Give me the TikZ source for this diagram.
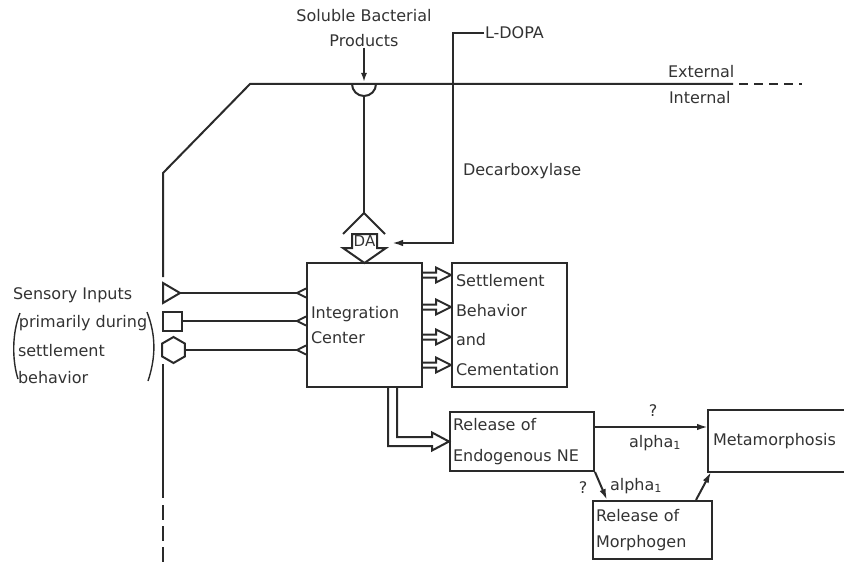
\documentclass[tikz,border=0pt]{standalone}
\usepackage{fontspec}
\setmainfont{DejaVu Sans}
\usetikzlibrary{calc,arrows.meta,shapes.geometric}
\definecolor{ink}{HTML}{2A2A2A}
\definecolor{txt}{HTML}{333333}
\newcommand\fsz{\fontsize{16}{25}\selectfont}
\begin{document}
\begin{tikzpicture}[x=1pt,y=-1pt,line width=2pt,draw=ink,text=txt,
  box/.style={draw,rectangle,inner xsep=4pt,inner ysep=0pt,align=left},
  lbl/.style={inner sep=0pt,font=\fsz},
  arr/.style={-{Latex[length=11pt,width=6.5pt]}}]
\useasboundingbox (0,0) rectangle (844,567);
\clip (0,0) rectangle (844,567);

% ---------- membrane ----------
\draw (163,277) -- (163,173) -- (250,84) -- (733,84);
\draw[dash pattern=on 9pt off 6pt] (739,84) -- (802,84);
\draw (163,364) -- (163,498);
\draw[dash pattern=on 15pt off 6pt] (163,505) -- (163,567);
\node[lbl,anchor=base west] (ext) at (667,78) {External};
\node[lbl,anchor=base west] (int) at (668,104) {Internal};

% ---------- receptor & bacterial products ----------
\node[lbl,align=center] (sbp) at (364,28) {Soluble Bacterial\\Products};
\draw (352,84) arc[start angle=180,end angle=0,radius=12];
\coordinate (rec) at (364,96);
\coordinate (recin) at (364,82);
\draw[-{Latex[length=9pt,width=6pt]}] (sbp.south) -- (recin);

% ---------- DA symbol ----------
\node[inner sep=0pt,font=\fontsize{15}{18}\selectfont] (da) at (364.5,241.5) {DA};
\coordinate (chev) at (364,213);
\draw (rec) -- (chev);
\draw[line join=miter] (343,234) -- (chev) -- (385,234);
\draw[line join=miter] (352,234) -- (352,248) -- (343,248) -- (364.5,263) -- (386,248) -- (377,248) -- (377,234) -- cycle;

% ---------- L-DOPA ----------
\node[lbl,anchor=west] (ldopa) at (484,33) {L-DOPA};
\coordinate (datip) at (392,243);
\draw[arr] (ldopa.west) -- (452.5,33) -- (452.5,243) -- (datip);
\node[lbl,anchor=base west] (dec) at (462,176) {Decarboxylase};

% ---------- boxes ----------
\node[box,minimum width=115pt,minimum height=124pt,text width=107pt,font=\fontsize{16}{25}\selectfont] (ic) at (364.5,325) {Integration\\Center};
\node[box,minimum width=115pt,minimum height=124pt,text width=107pt,inner xsep=2pt,font=\fontsize{16}{29.5}\selectfont] (sb) at (509.5,325) {Settlement\\Behavior\\and\\Cementation};
\node[box,minimum width=144pt,minimum height=59pt,text width=138pt,inner xsep=3pt,font=\fontsize{16}{31}\selectfont] (ne) at (522,441.5) {Release of\\Endogenous NE};
\node[box,minimum width=119pt,minimum height=58pt,text width=113pt,inner xsep=3pt,font=\fontsize{16}{26}\selectfont] (mp) at (652.5,530) {Release of\\Morphogen};
\node[box,draw=none,minimum width=151pt,minimum height=60pt,text width=143pt,font=\fsz] (meta) at (784.5,441) {Metamorphosis};
\draw (meta.north east) -- (meta.north west) -- (meta.south west) -- (meta.south east);

% ---------- sensory inputs ----------
\node[lbl,anchor=base west] (si1) at (12,299) {Sensory Inputs};
\node[lbl,anchor=base west] (si2) at (18,327) {primarily during};
\node[lbl,anchor=base west] (si3) at (17,356) {settlement};
\node[lbl,anchor=base west] (si4) at (17,383) {behavior};
\draw[line width=1.4pt] (20,313) .. controls (12,333) and (12,360) .. (18,379);
\draw[line width=1.4pt] (147,312) .. controls (156,335) and (156,357) .. (148,381);

\draw[line join=miter] (163,283) -- (180,293) -- (163,303) -- cycle;
\coordinate (trit) at (180,293);
\node[draw,rectangle,minimum size=19pt,inner sep=0pt] (sq) at (172.5,321) {};
\node[draw,regular polygon,regular polygon sides=6,shape border rotate=30,minimum size=26pt,inner sep=0pt] (hx) at (173.5,350) {};

\foreach \s/\yy in {trit/293,sq.east/321,hx.east/350}{
  \coordinate (p) at (ic.west |- 0,\yy);
  \draw (\s) -- ($(p)+(-9,0)$);
  \draw[line join=miter] (p) ++(0,-4.5) -- ++(-9,4.5) -- ++(9,4.5);
}

% ---------- hollow arrows IC -> settlement ----------
\foreach \yy in {275,307,337,365}{
  \coordinate (s) at (ic.east |- 0,\yy);
  \coordinate (t) at (sb.west |- 0,\yy);
  \draw[line join=miter] ($(s)+(0,-2.5)$) -- ($(t)+(-15,-2.5)$) -- ($(t)+(-15,-7.5)$) -- (t) -- ($(t)+(-15,7.5)$) -- ($(t)+(-15,2.5)$) -- ($(s)+(0,2.5)$);
}

% ---------- hollow arrow IC -> NE ----------
\coordinate (d) at ($(ic.south)+(28,0)$);
\coordinate (e) at (d |- ne.west);
\draw[line join=miter] ($(d)+(-4.5,0)$) -- ($(e)+(-4.5,4.5)$) -- ($(ne.west)+(-17,4.5)$) -- ($(ne.west)+(-17,9)$) -- (ne.west) -- ($(ne.west)+(-17,-9)$) -- ($(ne.west)+(-17,-4.5)$) -- ($(e)+(4.5,-4.5)$) -- ($(d)+(4.5,0)$);

% ---------- NE -> metamorphosis / morphogen ----------
\coordinate (a1) at (ne.east |- 0,427);
\draw[arr] (a1) -- (a1 -| meta.west);
\node[lbl,anchor=base] (q1) at (653,416) {?};
\node[lbl,anchor=base west] (al1) at (628,447) {alpha\textsubscript{1}};
\draw[arr] (ne.south east) -- ($(mp.north west)+(15,0)$);
\node[lbl,anchor=base] (q2) at (583,493) {?};
\node[lbl,anchor=base west] (al2) at (609,490) {alpha\textsubscript{1}};
\draw[arr] ($(mp.north east)+(-17,0)$) -- ($(meta.south west)+(3,0)$);
\end{tikzpicture}
\end{document}
